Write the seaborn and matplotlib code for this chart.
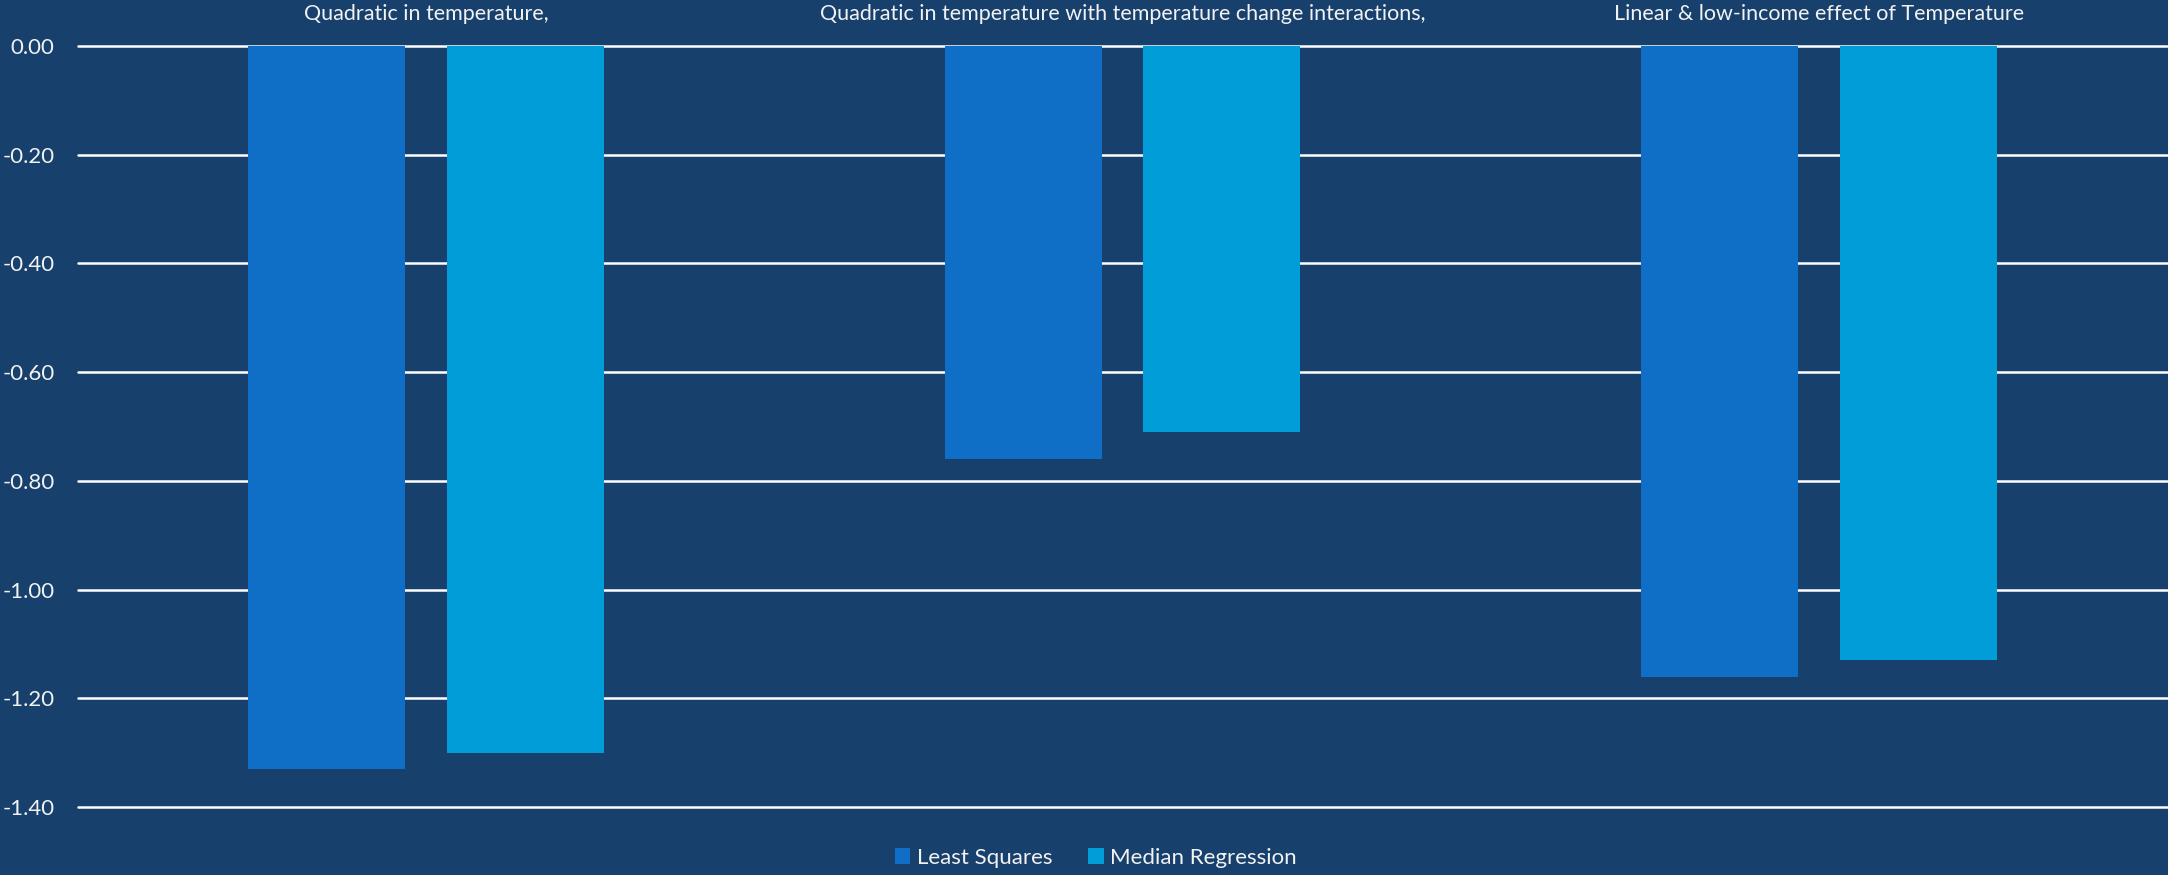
import matplotlib
matplotlib.use("Agg")
import matplotlib.pyplot as plt
import seaborn as sns
import pandas as pd
from matplotlib.patches import Patch

# Model specifications shown along the top
categories = [
    "Quadratic in temperature,",
    "Quadratic in temperature with temperature change interactions,",
    "Linear & low-income effect of Temperature",
]
series_names = ["Least Squares", "Median Regression"]
least_squares = [-1.33, -0.76, -1.16]
median_regression = [-1.30, -0.71, -1.13]
y_ticks = [0.0, -0.2, -0.4, -0.6, -0.8, -1.0, -1.2, -1.4]

BG = "#17406D"
PALETTE = {"Least Squares": "#0F6FC6", "Median Regression": "#009DD9"}
TEXT = "#F2F2F2"

df = pd.DataFrame({
    "model": categories * 2,
    "estimator": [series_names[0]] * 3 + [series_names[1]] * 3,
    "effect": least_squares + median_regression,
})

sns.set_theme(style="white")
plt.rcParams["font.family"] = ["Lato", "DejaVu Sans"]

fig = plt.figure(figsize=(21.68, 8.75), dpi=100, facecolor=BG)
ax = fig.add_axes([78 / 2168, 1 - 807 / 875, (2167 - 78) / 2168, (807 - 46) / 875])
ax.set_facecolor(BG)

sns.barplot(
    data=df, x="model", y="effect", hue="estimator",
    order=categories, hue_order=series_names, palette=PALETTE,
    width=0.571, gap=0.21, saturation=1, errorbar=None,
    legend=False, ax=ax, zorder=3, linewidth=0, edgecolor="none",
)

ax.set_ylim(-1.4, 0)
ax.set_xlim(-0.5, 2.5)
ax.set_yticks(y_ticks)
ax.set_yticklabels([f"{v:.2f}" for v in y_ticks])
ax.yaxis.grid(True, color="white", linewidth=1.8, zorder=0)
ax.set_axisbelow(True)
for gl in ax.get_ygridlines():
    gl.set_clip_on(False)

ax.xaxis.tick_top()
ax.tick_params(axis="x", length=0, pad=16, labelsize=15.5, labelcolor=TEXT)
ax.tick_params(axis="y", length=0, pad=17, labelsize=16, labelcolor=TEXT)
ax.set_xlabel("")
ax.set_ylabel("")
for s in ax.spines.values():
    s.set_visible(False)

handles = [Patch(facecolor=PALETTE[n], edgecolor="none", label=n) for n in series_names]
fig.legend(
    handles=handles, loc="center", bbox_to_anchor=(1096 / 2168, 1 - 858 / 875),
    ncol=2, frameon=False, fontsize=16, labelcolor=TEXT,
    handlelength=0.7, handleheight=0.7, handletextpad=0.3, columnspacing=1.6,
)

fig.savefig("out.png", dpi=100, facecolor=BG)
